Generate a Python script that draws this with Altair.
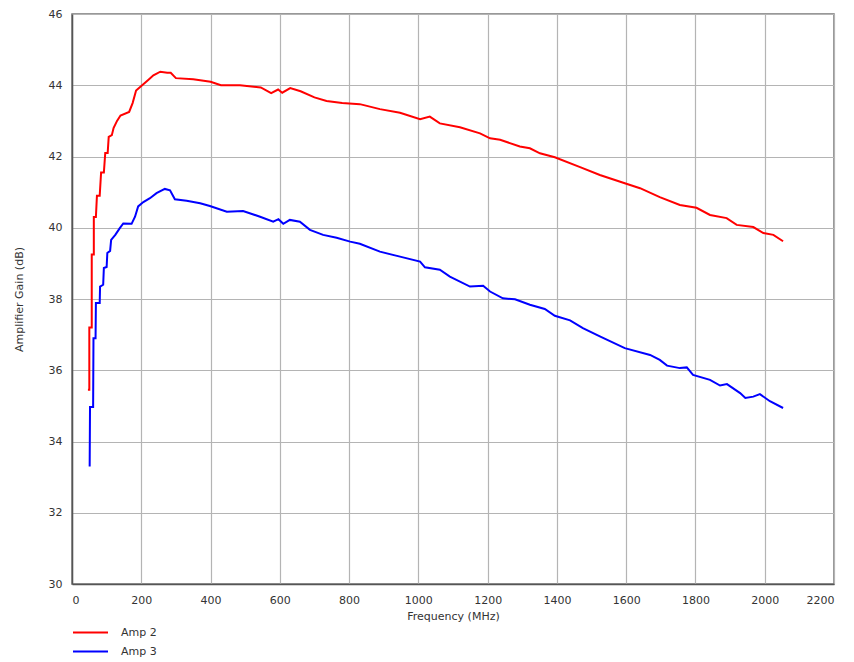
import altair as alt
import pandas as pd

# Amp 2 (red)
freq_amp2 = [46, 50, 50, 57, 57, 63, 63, 69, 72, 80, 84, 92, 96, 103, 106, 115, 120, 130, 140,
             165, 175, 185, 200, 220, 235, 255, 275, 285, 300, 350, 400, 430, 485, 545, 575, 595,
             607, 630, 660, 700, 735, 780, 831, 889, 947, 1005, 1033, 1062, 1120, 1178, 1207, 1236,
             1293, 1322, 1351, 1394, 1467, 1524, 1596, 1640, 1697, 1755, 1803, 1842, 1890, 1919,
             1967, 1996, 2025, 2053]
gain_amp2 = [35.45, 35.45, 37.2, 37.2, 39.25, 39.25, 40.3, 40.3, 40.9, 40.9, 41.55, 41.55, 42.1,
             42.1, 42.55, 42.6, 42.8, 43.0, 43.15, 43.25, 43.5, 43.85, 43.98, 44.15, 44.28, 44.38,
             44.35, 44.35, 44.2, 44.17, 44.1, 44.0, 44.0, 43.94, 43.78, 43.88, 43.79, 43.92, 43.83,
             43.66, 43.56, 43.5, 43.47, 43.33, 43.23, 43.05, 43.12, 42.93, 42.82, 42.65, 42.51,
             42.47, 42.28, 42.23, 42.09, 41.98, 41.70, 41.48, 41.25, 41.11, 40.86, 40.64, 40.56,
             40.36, 40.27, 40.08, 40.02, 39.85, 39.8, 39.62]

# Amp 3 (blue)
freq_amp3 = [51, 52, 61, 62, 68, 69, 80, 81, 90, 92, 100, 102, 110, 113, 125, 138, 148, 172, 182,
             191, 206, 225, 244, 268, 283, 297, 331, 370, 398, 447, 494, 543, 581, 596, 610, 629,
             658, 687, 725, 764, 803, 831, 889, 947, 1005, 1019, 1062, 1091, 1149, 1187, 1207, 1244,
             1279, 1322, 1365, 1394, 1438, 1475, 1524, 1596, 1669, 1697, 1718, 1755, 1775, 1793,
             1842, 1871, 1891, 1929, 1944, 1967, 1986, 2015, 2053]
gain_amp3 = [33.3, 34.97, 34.97, 36.9, 36.9, 37.89, 37.89, 38.35, 38.4, 38.87, 38.9, 39.29, 39.35,
             39.66, 39.8, 39.99, 40.12, 40.11, 40.31, 40.6, 40.72, 40.83, 40.97, 41.09, 41.05, 40.8,
             40.76, 40.69, 40.61, 40.45, 40.47, 40.31, 40.17, 40.24, 40.11, 40.22, 40.17, 39.94,
             39.8, 39.72, 39.61, 39.55, 39.33, 39.19, 39.05, 38.89, 38.82, 38.63, 38.35, 38.37,
             38.21, 38.02, 37.99, 37.84, 37.72, 37.53, 37.4, 37.18, 36.95, 36.62, 36.43, 36.29,
             36.13, 36.06, 36.08, 35.87, 35.73, 35.57, 35.61, 35.36, 35.22, 35.26, 35.33, 35.13,
             34.94]

series_names = ["Amp 2", "Amp 3"]
series_colors = ["#ff0000", "#0000ff"]
x_ticks = list(range(0, 2201, 200))
y_ticks = list(range(30, 47, 2))

rows = []
for i, (f, g) in enumerate(zip(freq_amp2, gain_amp2)):
    rows.append({"series": "Amp 2", "freq": f, "gain": g, "idx": i})
for i, (f, g) in enumerate(zip(freq_amp3, gain_amp3)):
    rows.append({"series": "Amp 3", "freq": f, "gain": g, "idx": i})
df = pd.DataFrame(rows)

font = "DejaVu Sans"

chart = alt.Chart(df).mark_line(strokeWidth=2).encode(
    x=alt.X("freq:Q", scale=alt.Scale(domain=[0, 2200], nice=False, zero=False),
            axis=alt.Axis(values=x_ticks, title="Frequency (MHz)", ticks=False,
                          labelPadding=10, titlePadding=5, format="d")),
    y=alt.Y("gain:Q", scale=alt.Scale(domain=[30, 46], nice=False, zero=False),
            axis=alt.Axis(values=y_ticks, title="Amplifier Gain (dB)", ticks=False,
                          labelPadding=10, titlePadding=24, format="d")),
    color=alt.Color("series:N",
                    scale=alt.Scale(domain=series_names, range=series_colors),
                    legend=alt.Legend(title=None, orient="none", legendX=0, legendY=611,
                                      direction="vertical", symbolType="stroke",
                                      symbolSize=1225, symbolStrokeWidth=2, clipHeight=15,
                                      labelFontSize=11, labelFont=font, labelColor="#333",
                                      labelOffset=12, rowPadding=4)),
    order=alt.Order("idx:Q"),
).properties(
    width=762, height=570,
    padding={"left": 5, "top": 0, "right": 5, "bottom": 0},
).configure_view(
    stroke="#777", strokeWidth=1.5
).configure_axis(
    labelFont=font, titleFont=font, labelFontSize=11, titleFontSize=11,
    labelColor="#333", titleColor="#333", titleFontWeight="normal",
    gridColor="#b4b4b4", gridWidth=1.2, domainColor="#555", domainWidth=1.5,
)

chart.save("out.html", embed_options={"renderer": "svg", "actions": False})
